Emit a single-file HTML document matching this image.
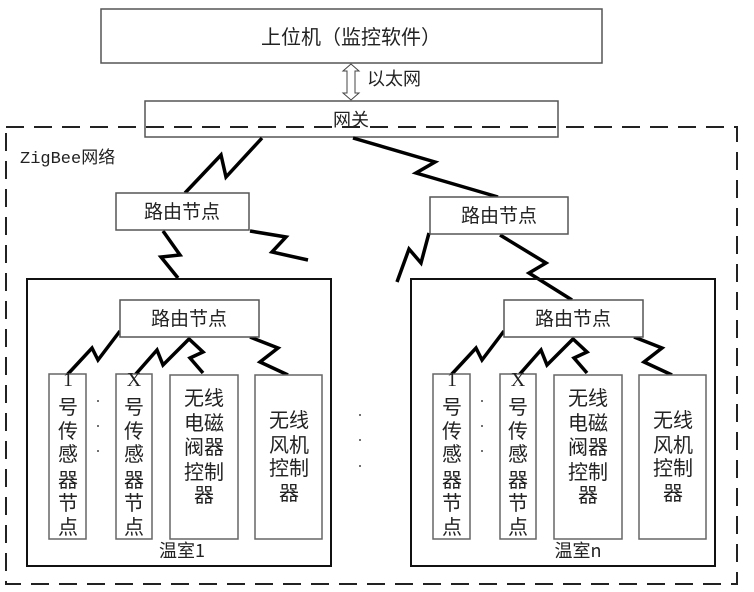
<!DOCTYPE html>
<html><head><meta charset="utf-8"><style>
html,body{margin:0;padding:0;background:#fff;}
svg{display:block;}
text{font-family:"Liberation Serif","Noto Sans CJK SC",serif;fill:#222;}
.c{font-family:"Noto Sans CJK SC","WenQuanYi Zen Hei",sans-serif;}
</style></head><body>
<svg width="754" height="592" viewBox="0 0 754 592" xmlns="http://www.w3.org/2000/svg">
<rect x="101" y="9" width="501" height="54" fill="#fff" stroke="#555" stroke-width="1.5"/>
<text x="351" y="44" font-size="20" text-anchor="middle" class="c">上位机（监控软件）</text>
<path d="M351 64 L343 71 L347 71 L347 93 L343 93 L351 100 L359 93 L355 93 L355 71 L359 71 Z" fill="#fff" stroke="#444" stroke-width="1"/>
<text x="367" y="85" font-size="18" class="c">以太网</text>
<rect x="6" y="127" width="731" height="457" fill="none" stroke="#222" stroke-width="2" stroke-dasharray="18,10"/>
<rect x="145" y="101" width="413" height="36" fill="none" stroke="#555" stroke-width="1.5"/>
<text x="351" y="126" font-size="18" text-anchor="middle" class="c">网关</text>
<text x="20" y="163" font-size="17" class="c" style="font-family:'Liberation Mono','Noto Sans CJK SC',monospace">ZigBee网络</text>
<g fill="none" stroke="#000" stroke-width="3.5" stroke-linejoin="miter">
<polyline points="262,138 226,177 221,155 185,193"/>
<polyline points="353,138 435,162 416,173 498,197"/>
<polyline points="163,231 180,255 161,257 178,278"/>
<polyline points="250,231 286,237 272,252 308,260"/>
<polyline points="429,233 421,263 409,249 397,282"/>
<polyline points="500,235 546,263 529,273 572,300"/>
</g>
<rect x="116" y="193" width="133" height="37" fill="#fff" stroke="#555" stroke-width="1.5"/>
<text x="182" y="218" font-size="19" text-anchor="middle" class="c">路由节点</text>
<rect x="430" y="197" width="138" height="37" fill="#fff" stroke="#555" stroke-width="1.5"/>
<text x="499" y="222" font-size="19" text-anchor="middle" class="c">路由节点</text>
<g id="gh">
<rect x="27" y="279" width="304" height="287" fill="none" stroke="#111" stroke-width="2"/>
<g fill="none" stroke="#000" stroke-width="3.5">
<polyline points="120,331 98,360 92,348 67,375"/>
<polyline points="190,338 163,365 157,350 135,375"/>
<polyline points="188,338 203,352 190,358 203,373"/>
<polyline points="250,337 278,348 260,362 288,375"/>
</g>
<rect x="120" y="300" width="139" height="37" fill="#fff" stroke="#555" stroke-width="1.5"/>
<text x="189" y="325" font-size="19" text-anchor="middle" class="c">路由节点</text>
<rect x="49" y="374" width="37" height="165" fill="#fff" stroke="#666" stroke-width="1.5"/>
<rect x="116" y="374" width="36" height="165" fill="#fff" stroke="#666" stroke-width="1.5"/>
<rect x="170" y="375" width="68" height="164" fill="#fff" stroke="#666" stroke-width="1.5"/>
<rect x="255" y="375" width="67" height="164" fill="#fff" stroke="#666" stroke-width="1.5"/>
<g font-size="20" text-anchor="middle" class="c">
<text x="68" y="386" style="font-family:'Liberation Serif',serif">1</text>
<text x="68" y="414">号</text><text x="68" y="438">传</text><text x="68" y="461">感</text><text x="68" y="487">器</text><text x="68" y="510">节</text><text x="68" y="534">点</text>
<text x="134" y="386" style="font-family:'Liberation Serif',serif">X</text>
<text x="134" y="414">号</text><text x="134" y="438">传</text><text x="134" y="461">感</text><text x="134" y="487">器</text><text x="134" y="510">节</text><text x="134" y="534">点</text>
<text x="204" y="405">无线</text><text x="204" y="430">电磁</text><text x="204" y="454">阀器</text><text x="204" y="479">控制</text><text x="204" y="502">器</text>
<text x="289" y="427">无线</text><text x="289" y="452">风机</text><text x="289" y="475">控制</text><text x="289" y="500">器</text>
</g>
<g fill="#444"><circle cx="98" cy="401" r="1"/><circle cx="98" cy="426" r="1"/><circle cx="98" cy="451" r="1"/></g>
</g>
<text x="182" y="557" font-size="18" text-anchor="middle" class="c">温室1</text>
<use href="#gh" transform="translate(384,0)"/>
<text x="578" y="557" font-size="18" text-anchor="middle" class="c">温室n</text>
<g fill="#444"><circle cx="360" cy="415" r="1"/><circle cx="360" cy="440" r="1"/><circle cx="360" cy="466" r="1"/></g>
</svg>
</body></html>
